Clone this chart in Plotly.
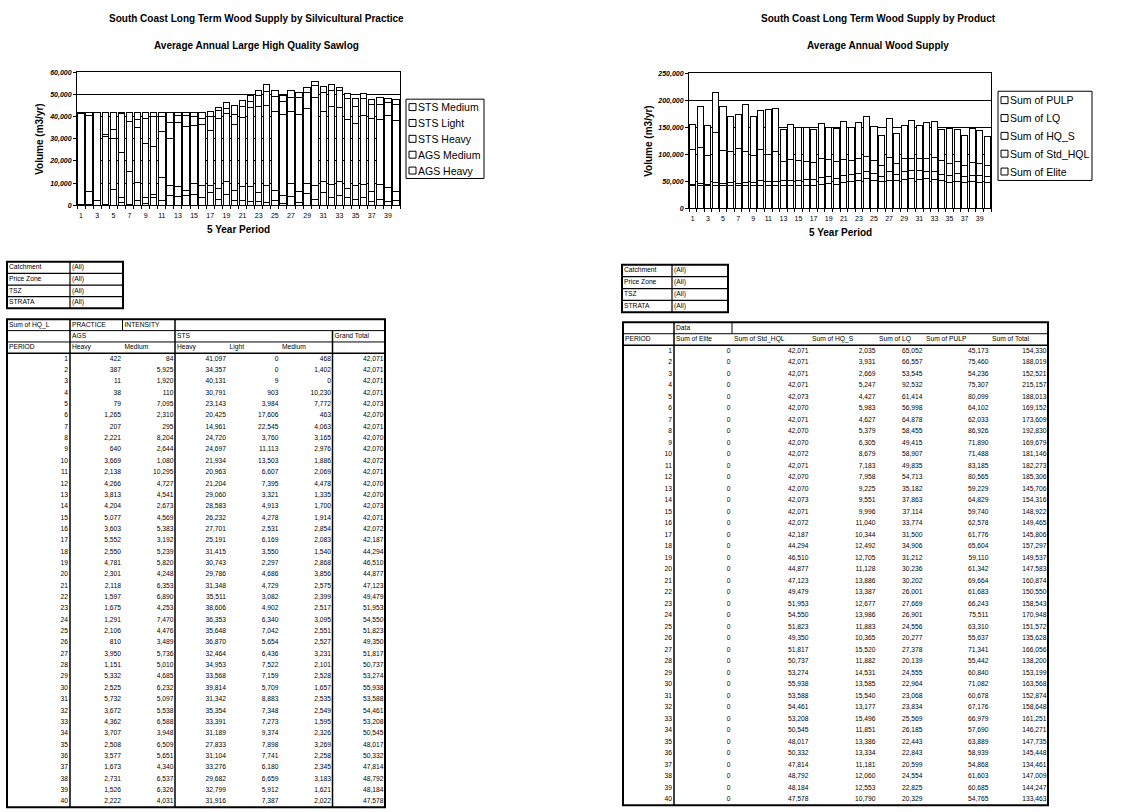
import plotly.graph_objects as go

W, H = 1140, 812
FONT = "Arial, Liberation Sans, sans-serif"

# ---------------------------------------------------------------- data
periods = list(range(1, 41))

# Sum of HQ_L by practice / intensity (m3/yr)
ags_heavy = [422, 387, 11, 38, 79, 1265, 207, 2221, 640, 3669, 2138, 4266, 3813, 4204, 5077, 3603, 5552, 2550, 4781, 2301,
             2118, 1597, 1675, 1291, 2106, 810, 3950, 1151, 5332, 2525, 5732, 3672, 4362, 3707, 2508, 3577, 1673, 2731, 1526, 2222]
ags_medium = [84, 5925, 1920, 110, 7095, 2310, 295, 8204, 2644, 1080, 10295, 4727, 4541, 2673, 4569, 5383, 3192, 5239, 5820, 4248,
              6353, 6890, 4253, 7470, 4476, 3489, 5736, 5010, 4685, 6232, 5097, 5538, 6588, 3948, 6509, 5651, 4340, 6537, 6326, 4031]
sts_heavy = [41097, 34357, 40131, 30791, 23143, 20425, 14961, 24720, 24697, 21934, 20963, 21204, 29060, 28583, 26232, 27701, 25191, 31415, 30743, 29786,
             31348, 35511, 38606, 36353, 35648, 36870, 32464, 34953, 33568, 39814, 31342, 35354, 33391, 31189, 27833, 31104, 33276, 29682, 32799, 31916]
sts_light = [0, 0, 9, 903, 3984, 17606, 22545, 3760, 11113, 13503, 6607, 7395, 3321, 4913, 4278, 2531, 6169, 3550, 2297, 4686,
             4729, 3082, 4902, 6340, 7042, 5654, 6436, 7522, 7159, 5709, 8883, 7348, 7273, 9374, 7898, 7741, 6180, 6659, 5912, 7387]
sts_medium = [468, 1402, 0, 10230, 7772, 463, 4063, 3165, 2976, 1886, 2069, 4478, 1335, 1700, 1914, 2854, 2083, 1540, 2868, 3856,
              2575, 2399, 2517, 3095, 2551, 2527, 3231, 2101, 2528, 1657, 2535, 2549, 1595, 2326, 3269, 2258, 2345, 3183, 1621, 2022]
grand_total = [42071, 42071, 42071, 42071, 42073, 42070, 42071, 42070, 42070, 42072, 42071, 42070, 42070, 42073, 42071, 42072, 42187, 44294, 46510, 44877,
               47123, 49479, 51953, 54550, 51823, 49350, 51817, 50737, 53274, 55938, 53588, 54461, 53208, 50545, 48017, 50332, 47814, 48792, 48184, 47578]

# Wood supply by product (m3/yr)
sum_elite = [0, 0, 0, 0, 0, 0, 0, 0, 0, 0, 0, 0, 0, 0, 0, 0, 0, 0, 0, 0,
             0, 0, 0, 0, 0, 0, 0, 0, 0, 0, 0, 0, 0, 0, 0, 0, 0, 0, 0, 0]
sum_std_hql = [42071, 42071, 42071, 42071, 42073, 42070, 42071, 42070, 42070, 42072, 42071, 42070, 42070, 42073, 42071, 42072, 42187, 44294, 46510, 44877,
               47123, 49479, 51953, 54550, 51823, 49350, 51817, 50737, 53274, 55938, 53588, 54461, 53208, 50545, 48017, 50332, 47814, 48792, 48184, 47578]
sum_hq_s = [2035, 3931, 2669, 5247, 4427, 5983, 4627, 5379, 6305, 8679, 7183, 7958, 9225, 9551, 9996, 11040, 10344, 12492, 12705, 11128,
            13886, 13387, 12677, 13986, 11883, 10365, 15520, 11882, 14531, 13585, 15540, 13177, 15496, 11851, 13386, 13334, 11181, 12060, 12553, 10790]
sum_lq = [65052, 66557, 53545, 92532, 61414, 56998, 64878, 58455, 49415, 58907, 49835, 54713, 35182, 37863, 37114, 33774, 31500, 34906, 31212, 30236,
          30202, 26001, 27669, 26901, 24556, 20277, 27378, 20139, 24555, 22964, 23068, 23834, 25569, 26185, 22443, 22843, 20599, 24554, 22825, 20329]
sum_pulp = [45173, 75460, 54236, 75307, 80099, 64102, 62033, 86926, 71890, 71488, 83185, 80565, 59229, 64829, 59740, 62578, 61776, 65604, 59110, 61342,
            69664, 61683, 66243, 75511, 63310, 55637, 71341, 55442, 60840, 71082, 60678, 67176, 66979, 57690, 63889, 58939, 54868, 61603, 60685, 54765]
sum_total = [154330, 188019, 152521, 215157, 188013, 169152, 173609, 192830, 169679, 181146, 182273, 185306, 145706, 154316, 148922, 149465, 145806, 157297, 149537, 147583,
             160874, 150550, 158543, 170948, 151572, 135628, 166056, 138200, 153199, 163568, 152874, 158648, 161251, 146271, 147735, 145448, 134461, 147009, 144247, 133463]

filter_fields = ["Catchment", "Price Zone", "TSZ", "STRATA"]
filter_value = "(All)"

practice_series = [("AGS Heavy", ags_heavy), ("AGS Medium", ags_medium), ("STS Heavy", sts_heavy),
                   ("STS Light", sts_light), ("STS Medium", sts_medium)]
product_series = [("Sum of Elite", sum_elite), ("Sum of Std_HQL", sum_std_hql), ("Sum of HQ_S", sum_hq_s),
                  ("Sum of LQ", sum_lq), ("Sum of PULP", sum_pulp)]

odd_periods = [p for p in periods if p % 2 == 1]

fig = go.Figure()

# ---------------------------------------------------------------- stacked bar charts
bar_style = dict(color="white", line=dict(color="black", width=1))
for name, vals in practice_series:
    fig.add_trace(go.Bar(x=periods, y=vals, name=name, marker=bar_style, xaxis="x", yaxis="y",
                         showlegend=False, hoverinfo="skip"))
for name, vals in product_series:
    fig.add_trace(go.Bar(x=periods, y=vals, name=name, marker=bar_style, xaxis="x2", yaxis="y2",
                         showlegend=False, hoverinfo="skip"))


def px_x(v):
    return v / W


def px_y(v):
    return 1 - v / H


def cat_axis(x0, x1, anchor):
    return dict(domain=[px_x(x0), px_x(x1)], anchor=anchor, range=[0.5, 40.5],
                tickmode="array", tickvals=odd_periods, ticktext=[str(p) for p in odd_periods],
                ticks="outside", ticklen=3, tickcolor="rgba(0,0,0,0)",
                minor=dict(tickmode="linear", tick0=0.5, dtick=1, ticks="outside", ticklen=3,
                           tickcolor="black", showgrid=False),
                showline=True, mirror=True, linecolor="black", linewidth=1,
                showgrid=False, zeroline=False, fixedrange=True,
                tickfont=dict(family=FONT, size=7, color="black"))


def val_axis(y_top, y_bottom, anchor, top, step):
    return dict(domain=[px_y(y_bottom), px_y(y_top)], anchor=anchor, range=[0, top], dtick=step,
                tickformat=",", ticks="outside", ticklen=3, tickcolor="black",
                showgrid=True, gridcolor="black", gridwidth=1,
                showline=True, mirror=True, linecolor="black", linewidth=1,
                zeroline=False, fixedrange=True,
                tickfont=dict(family=FONT, size=7, color="black", weight="bold", style="italic"))


def note(x, y, text, size, bold=False, angle=0, anchor="center"):
    fig.add_annotation(x=px_x(x), y=px_y(y), xref="paper", yref="paper", text=text, showarrow=False,
                       textangle=angle, xanchor=anchor, yanchor="middle",
                       font=dict(family=FONT, size=size, color="black", weight="bold" if bold else "normal"))


# titles and axis titles
note(256, 15, "South Coast Long Term Wood Supply by Silvicultural Practice", 10, True)
note(256, 42, "Average Annual Large High Quality Sawlog", 10, True)
note(40, 136, "Volume (m3/yr)", 10, True, -90)
note(238, 227, "5 Year Period", 10, True)

note(878, 15, "South Coast Long Term Wood Supply by Product", 10, True)
note(878, 42, "Average Annual Wood Supply", 10, True)
note(649, 138, "Volume (m3/yr)", 10, True, -90)
note(840, 230, "5 Year Period", 10, True)


def draw_legend(names, x0, x1, y0, y1):
    pitch = (y1 - y0) / len(names)
    fig.add_shape(type="rect", xref="paper", yref="paper", x0=px_x(x0), x1=px_x(x1), y0=px_y(y1), y1=px_y(y0),
                  line=dict(color="black", width=1), fillcolor="white", layer="above")
    for k, name in enumerate(names):
        cy = y0 + pitch * (k + 0.5)
        fig.add_shape(type="rect", xref="paper", yref="paper", x0=px_x(x0 + 3), x1=px_x(x0 + 10),
                      y0=px_y(cy + 3.5), y1=px_y(cy - 3.5),
                      line=dict(color="black", width=1), fillcolor="white", layer="above")
        note(x0 + 10, cy, name, 10.5, anchor="left")


draw_legend([n for n, _ in reversed(practice_series)], 406, 484, 96, 176)
draw_legend([n for n, _ in reversed(product_series)], 998, 1092, 88, 178)

# ---------------------------------------------------------------- pivot tables
TFS = 6.7


def row_axis(top_px, pitch, overlay=None):
    ax = dict(domain=[0, 1], anchor="x3", visible=False, fixedrange=True,
              range=[(H - top_px) / pitch - 0.5, -top_px / pitch - 0.5])
    if overlay:
        ax["overlaying"] = overlay
    return ax


def text_col(x, rows, texts, yax, align):
    fig.add_trace(go.Scatter(x=[x] * len(rows), y=rows, text=texts, mode="text",
                             textposition="middle left" if align == "right" else "middle right",
                             textfont=dict(family=FONT, size=TFS, color="black"),
                             xaxis="x3", yaxis=yax, hoverinfo="skip", showlegend=False, cliponaxis=False))


def line(yax, x0, x1, y0, y1, w=1):
    fig.add_shape(type="line", xref="x3", yref=yax, x0=x0, x1=x1, y0=y0, y1=y1,
                  line=dict(color="black", width=w), layer="above")


def box(yax, x0, x1, y0, y1, w=2):
    fig.add_shape(type="rect", xref="x3", yref=yax, x0=x0, x1=x1, y0=y0, y1=y1,
                  line=dict(color="black", width=w), layer="above")


def fmt(v):
    return f"{v:,}"


def filter_table(yax, left, split, right):
    n = len(filter_fields)
    rows = list(range(n))
    text_col(left + 2, rows, filter_fields, yax, "left")
    text_col(split + 2, rows, [filter_value] * n, yax, "left")
    box(yax, left, right, -0.5, n - 0.5)
    for r in rows[:-1]:
        line(yax, left, right, r + 0.5, r + 0.5, 1.2)
    line(yax, split, split, -0.5, n - 0.5, 1.2)


# left filter + pivot
filter_table("y4", 7, 70, 123)

LX = [7, 70, 122.5, 175, 227.5, 280, 332.5, 385]
left_cols = [ags_heavy, ags_medium, sts_heavy, sts_light, sts_medium, grand_total]
data_rows = [r + 3 for r in range(len(periods))]
last = data_rows[-1]

text_col(LX[0] + 2, [0, 2], ["Sum of HQ_L", "PERIOD"], "y3", "left")
text_col(LX[1] + 2, [0, 1, 2], ["PRACTICE", "AGS", "Heavy"], "y3", "left")
text_col(LX[2] + 2, [0, 2], ["INTENSITY", "Medium"], "y3", "left")
text_col(LX[3] + 2, [1, 2], ["STS", "Heavy"], "y3", "left")
text_col(LX[4] + 2, [2], ["Light"], "y3", "left")
text_col(LX[5] + 2, [2], ["Medium"], "y3", "left")
text_col(LX[6] + 2, [1], ["Grand Total"], "y3", "left")
text_col(LX[1] - 2, data_rows, [str(p) for p in periods], "y3", "right")
for c, vals in enumerate(left_cols):
    text_col(LX[c + 2] - 1.5, data_rows, [fmt(v) for v in vals], "y3", "right")

box("y3", LX[0], LX[-1], -0.5, last + 0.5)
line("y3", LX[0], LX[-1], 0.5, 0.5)
line("y3", LX[0], LX[-1], 1.5, 1.5)
line("y3", LX[0], LX[-1], 2.5, 2.5, 1.5)
line("y3", LX[1], LX[1], -0.5, last + 0.5, 1.5)
line("y3", LX[2], LX[2], -0.5, 0.5)
line("y3", LX[3], LX[3], -0.5, last + 0.5, 1.5)
line("y3", LX[6], LX[6], 0.5, last + 0.5, 1.5)

# right filter + pivot
filter_table("y5", 622, 672, 728)

RX = [623, 674, 732, 810, 877, 924, 990, 1048]
right_cols = [sum_elite, sum_std_hql, sum_hq_s, sum_lq, sum_pulp, sum_total]
right_heads = ["Sum of Elite", "Sum of Std_HQL", "Sum of HQ_S", "Sum of LQ", "Sum of PULP", "Sum of Total"]
rrows = [r + 2 for r in range(len(periods))]
rlast = rrows[-1]

text_col(RX[1] + 2, [0], ["Data"], "y6", "left")
text_col(RX[0] + 2, [1], ["PERIOD"], "y6", "left")
for c, head in enumerate(right_heads):
    text_col(RX[c + 1] + 2, [1], [head], "y6", "left")
text_col(RX[1] - 2, rrows, [str(p) for p in periods], "y6", "right")
for c, vals in enumerate(right_cols):
    text_col(RX[c + 2] - 1.5, rrows, [fmt(v) for v in vals], "y6", "right")

box("y6", RX[0], RX[-1], -0.5, rlast + 0.5)
line("y6", RX[0], RX[-1], 0.5, 0.5)
line("y6", RX[0], RX[-1], 1.5, 1.5, 1.5)
line("y6", RX[1], RX[1], -0.5, rlast + 0.5, 1.5)
line("y6", RX[2], RX[2], -0.5, 0.5)

# ---------------------------------------------------------------- layout
fig.update_layout(
    width=W, height=H, margin=dict(l=0, r=0, t=0, b=0),
    paper_bgcolor="white", plot_bgcolor="rgba(0,0,0,0)",
    barmode="stack", bargap=0.2, showlegend=False,
    font=dict(family=FONT, color="black"),
    xaxis=cat_axis(77, 400, "y"),
    yaxis=val_axis(69, 203, "x", 60000, 10000),
    xaxis2=cat_axis(689, 991, "y2"),
    yaxis2=val_axis(70, 206, "x2", 250000, 50000),
    xaxis3=dict(domain=[0, 1], range=[0, W], anchor="y3", visible=False, fixedrange=True),
    yaxis3=row_axis(318, 11.45),
    yaxis4=row_axis(260, 11.75, "y3"),
    yaxis5=row_axis(263, 12, "y3"),
    yaxis6=row_axis(321, 11.6, "y3"),
)

fig.write_html("out.html")
